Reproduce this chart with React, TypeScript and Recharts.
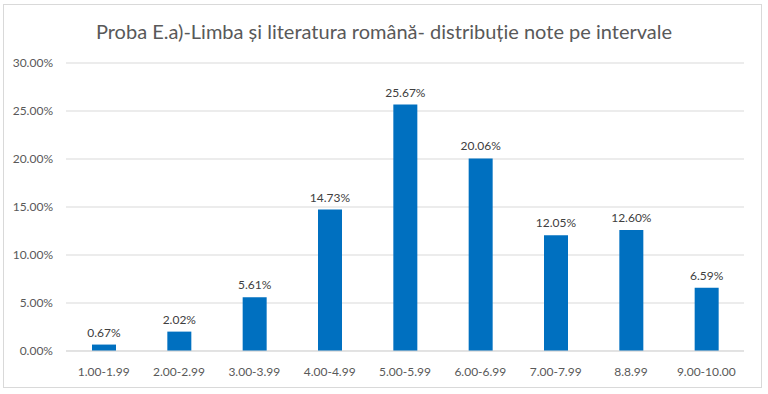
import React from "react";
import { BarChart, Bar, XAxis, YAxis, CartesianGrid, LabelList } from "recharts";

const categories = ["1.00-1.99", "2.00-2.99", "3.00-3.99", "4.00-4.99", "5.00-5.99", "6.00-6.99", "7.00-7.99", "8.8.99", "9.00-10.00"];
const values = [0.67, 2.02, 5.61, 14.73, 25.67, 20.06, 12.05, 12.6, 6.59];
const yTicks = [0, 5, 10, 15, 20, 25, 30];
const title = "Proba E.a)-Limba și literatura română- distribuție note pe intervale";

const data = categories.map((c, i) => ({ name: c, value: values[i] }));
const FONT = "Lato, 'Open Sans', sans-serif";

export default function App() {
  return (
    <div style={{ position: "absolute", left: 0, top: 0, width: 768, height: 394, background: "#fff", fontFamily: FONT }}>
      <div style={{ position: "absolute", left: 3, top: 4, width: 759, height: 384, border: "1px solid #d9d9d9", boxSizing: "border-box" }} />
      <div style={{ position: "absolute", left: 0, top: 19, width: 768, textAlign: "center", fontSize: 20, color: "#595959" }}>{title}</div>
      <div style={{ position: "absolute", left: 0, top: 0 }}>
        <BarChart width={768} height={394} data={data} margin={{ top: 63, right: 24, bottom: 13, left: 0 }} barCategoryGap="34%">
          <CartesianGrid vertical={false} stroke="#d9d9d9" />
          <XAxis dataKey="name" axisLine={{ stroke: "#d9d9d9" }} tickLine={false} height={30} tickMargin={10} tick={{ fontSize: 12, fill: "#595959", fontFamily: FONT }} interval={0} />
          <YAxis domain={[0, 30]} ticks={yTicks} width={66} axisLine={false} tickLine={false} tickMargin={7} tickFormatter={(v: number) => v.toFixed(2) + "%"} tick={{ fontSize: 12, fill: "#595959", fontFamily: FONT }} />
          <Bar dataKey="value" fill="#0070c0" isAnimationActive={false} barSize={24}>
            <LabelList dataKey="value" position="top" offset={8} formatter={(v: number) => v.toFixed(2) + "%"} style={{ fontSize: 12, fill: "#404040", fontFamily: FONT }} />
          </Bar>
        </BarChart>
      </div>
    </div>
  );
}
